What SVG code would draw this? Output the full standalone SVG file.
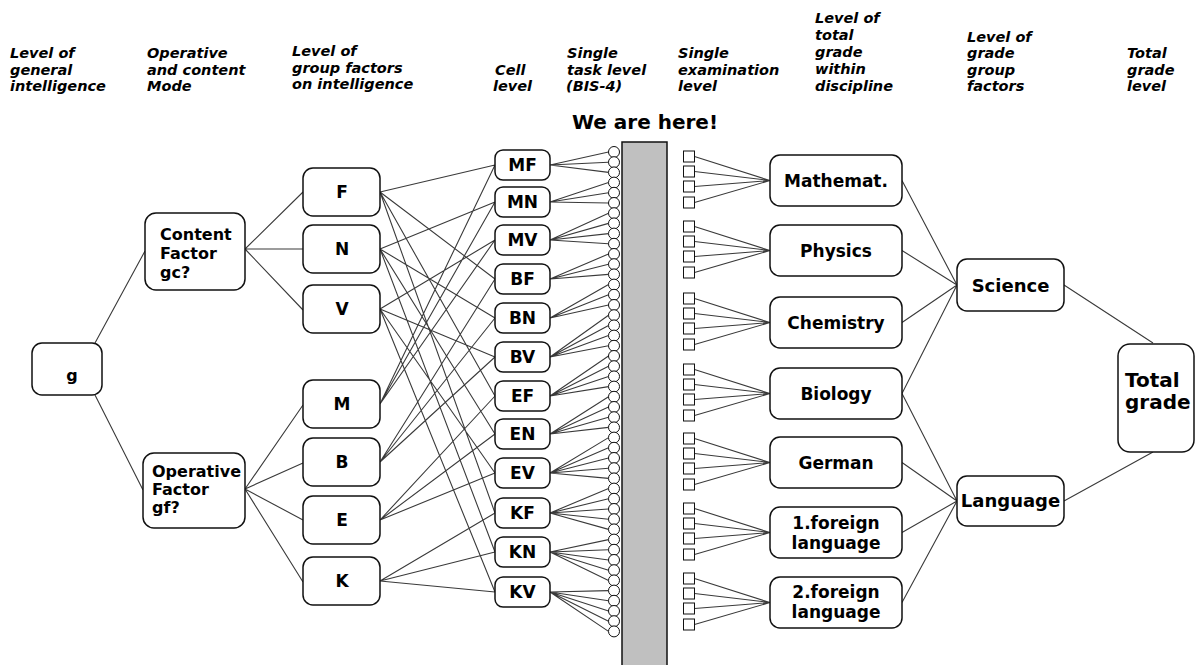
<svg xmlns="http://www.w3.org/2000/svg" width="1195" height="665" viewBox="0 0 1195 665">
<style>
.hdr{font-family:"DejaVu Sans",sans-serif;font-weight:bold;font-style:italic;font-size:14.5px;fill:#000}
.lbl{font-family:"DejaVu Sans",sans-serif;font-weight:bold;fill:#000}
.box{fill:#fff;stroke:#111;stroke-width:1.5}
.ln{stroke:#3a3a3a;stroke-width:1.1;fill:none}
.cir{fill:#fff;stroke:#111;stroke-width:1}
.sq{fill:#fff;stroke:#111;stroke-width:1}
</style>
<rect width="1195" height="665" fill="#fff"/>
<g id="headers">
<text class="hdr" x="10" y="58">Level of</text><text class="hdr" x="10" y="74.5">general</text><text class="hdr" x="10" y="91">intelligence</text>
<text class="hdr" x="147" y="58">Operative</text><text class="hdr" x="147" y="74.5">and content</text><text class="hdr" x="147" y="91">Mode</text>
<text class="hdr" x="292" y="56">Level of</text><text class="hdr" x="292" y="72.5">group factors</text><text class="hdr" x="292" y="89">on intelligence</text>
<text class="hdr" x="495" y="74.5">Cell</text><text class="hdr" x="493" y="91">level</text>
<text class="hdr" x="567" y="58">Single</text><text class="hdr" x="567" y="74.5">task level</text><text class="hdr" x="566" y="91">(BIS-4)</text>
<text class="hdr" x="678" y="58">Single</text><text class="hdr" x="678" y="74.5">examination</text><text class="hdr" x="678" y="91">level</text>
<text class="hdr" x="815" y="23">Level of</text><text class="hdr" x="815" y="40">total</text><text class="hdr" x="815" y="57">grade</text><text class="hdr" x="815" y="74">within</text><text class="hdr" x="815" y="91">discipline</text>
<text class="hdr" x="967" y="41.5">Level of</text><text class="hdr" x="967" y="58">grade</text><text class="hdr" x="967" y="74.5">group</text><text class="hdr" x="967" y="91">factors</text>
<text class="hdr" x="1127" y="58">Total</text><text class="hdr" x="1127" y="74.5">grade</text><text class="hdr" x="1127" y="91">level</text>
<text class="lbl" x="645" y="129" font-size="20" text-anchor="middle">We are here!</text>
</g>
<g id="bar"><rect x="622" y="142" width="45" height="530" fill="#c0c0c0" stroke="#111" stroke-width="1.5"/></g>
<g id="connectors">
<path class="ln" d="M95,343L145,251M95,395L143,490"/>
<path class="ln" d="M245,249L303,192M245,249L303,249M245,249L303,310"/>
<path class="ln" d="M245,489L303,405M245,489L303,463M245,489L303,520M245,489L303,582"/>
<path class="ln" d="M380,404L495,165M380,192L495,165M380,404L495,202M380,249L495,202M380,404L495,240M380,309L495,240M380,462L495,279M380,192L495,279M380,462L495,318M380,249L495,318M380,462L495,357M380,309L495,357M380,520L495,396M380,192L495,396M380,520L495,434M380,249L495,434M380,520L495,473M380,309L495,473M380,581L495,513M380,192L495,513M380,581L495,552M380,249L495,552M380,581L495,592M380,309L495,592"/>
<path class="ln" d="M550,165L608.5,152M550,165L608.5,162.2M550,165L608.5,172.4
M550,202L608.5,182.6M550,202L608.5,192.8M550,202L608.5,203
M550,240L608.5,213.2M550,240L608.5,223.4M550,240L608.5,233.6M550,240L608.5,243.8
M550,279L608.5,254M550,279L608.5,264.2M550,279L608.5,274.4
M550,318L608.5,284.6M550,318L608.5,294.8M550,318L608.5,305
M550,357L608.5,315.2M550,357L608.5,325.4M550,357L608.5,335.6M550,357L608.5,345.8
M550,396L608.5,356M550,396L608.5,366.2M550,396L608.5,376.4M550,396L608.5,386.6
M550,434L608.5,396.8M550,434L608.5,407M550,434L608.5,417.2M550,434L608.5,427.4
M550,473L608.5,437.6M550,473L608.5,447.8M550,473L608.5,458M550,473L608.5,468.2M550,473L608.5,478.4
M550,513L608.5,488.6M550,513L608.5,498.8M550,513L608.5,509M550,513L608.5,519.2M550,513L608.5,529.4
M550,552L608.5,539.6M550,552L608.5,549.8M550,552L608.5,560M550,552L608.5,570.2M550,552L608.5,580.4
M550,592L608.5,590.6M550,592L608.5,600.8M550,592L608.5,611M550,592L608.5,621.2M550,592L608.5,631.4"/>
<path class="ln" d="M694.5,156.5L770,180.5M694.5,171.5L770,180.5M694.5,186.5L770,180.5M694.5,202.5L770,180.5
M694.5,226.5L770,250.5M694.5,241.5L770,250.5M694.5,256.5L770,250.5M694.5,272.5L770,250.5
M694.5,298.5L770,322.5M694.5,313.5L770,322.5M694.5,328.5L770,322.5M694.5,344.5L770,322.5
M694.5,369.5L770,393.5M694.5,384.5L770,393.5M694.5,399.5L770,393.5M694.5,415.5L770,393.5
M694.5,438.5L770,462.5M694.5,453.5L770,462.5M694.5,468.5L770,462.5M694.5,484.5L770,462.5
M694.5,508.5L770,532.5M694.5,523.5L770,532.5M694.5,538.5L770,532.5M694.5,554.5L770,532.5
M694.5,578.5L770,602.5M694.5,593.5L770,602.5M694.5,608.5L770,602.5M694.5,624.5L770,602.5"/>
<path class="ln" d="M902,180.5L957,285M902,250.5L957,285M902,322.5L957,285M902,393.5L957,285M902,393.5L957,501M902,462.5L957,501M902,532.5L957,501M902,602.5L957,501"/>
<path class="ln" d="M1064,285L1153,343M1064,501L1153,452"/>
</g>
<g id="tasks">
<circle class="cir" cx="614" cy="152" r="5.5"/><circle class="cir" cx="614" cy="162.2" r="5.5"/><circle class="cir" cx="614" cy="172.4" r="5.5"/><circle class="cir" cx="614" cy="182.6" r="5.5"/><circle class="cir" cx="614" cy="192.8" r="5.5"/><circle class="cir" cx="614" cy="203" r="5.5"/><circle class="cir" cx="614" cy="213.2" r="5.5"/><circle class="cir" cx="614" cy="223.4" r="5.5"/><circle class="cir" cx="614" cy="233.6" r="5.5"/><circle class="cir" cx="614" cy="243.8" r="5.5"/><circle class="cir" cx="614" cy="254" r="5.5"/><circle class="cir" cx="614" cy="264.2" r="5.5"/><circle class="cir" cx="614" cy="274.4" r="5.5"/><circle class="cir" cx="614" cy="284.6" r="5.5"/><circle class="cir" cx="614" cy="294.8" r="5.5"/><circle class="cir" cx="614" cy="305" r="5.5"/><circle class="cir" cx="614" cy="315.2" r="5.5"/><circle class="cir" cx="614" cy="325.4" r="5.5"/><circle class="cir" cx="614" cy="335.6" r="5.5"/><circle class="cir" cx="614" cy="345.8" r="5.5"/><circle class="cir" cx="614" cy="356" r="5.5"/><circle class="cir" cx="614" cy="366.2" r="5.5"/><circle class="cir" cx="614" cy="376.4" r="5.5"/><circle class="cir" cx="614" cy="386.6" r="5.5"/><circle class="cir" cx="614" cy="396.8" r="5.5"/><circle class="cir" cx="614" cy="407" r="5.5"/><circle class="cir" cx="614" cy="417.2" r="5.5"/><circle class="cir" cx="614" cy="427.4" r="5.5"/><circle class="cir" cx="614" cy="437.6" r="5.5"/><circle class="cir" cx="614" cy="447.8" r="5.5"/><circle class="cir" cx="614" cy="458" r="5.5"/><circle class="cir" cx="614" cy="468.2" r="5.5"/><circle class="cir" cx="614" cy="478.4" r="5.5"/><circle class="cir" cx="614" cy="488.6" r="5.5"/><circle class="cir" cx="614" cy="498.8" r="5.5"/><circle class="cir" cx="614" cy="509" r="5.5"/><circle class="cir" cx="614" cy="519.2" r="5.5"/><circle class="cir" cx="614" cy="529.4" r="5.5"/><circle class="cir" cx="614" cy="539.6" r="5.5"/><circle class="cir" cx="614" cy="549.8" r="5.5"/><circle class="cir" cx="614" cy="560" r="5.5"/><circle class="cir" cx="614" cy="570.2" r="5.5"/><circle class="cir" cx="614" cy="580.4" r="5.5"/><circle class="cir" cx="614" cy="590.6" r="5.5"/><circle class="cir" cx="614" cy="600.8" r="5.5"/><circle class="cir" cx="614" cy="611" r="5.5"/><circle class="cir" cx="614" cy="621.2" r="5.5"/><circle class="cir" cx="614" cy="631.4" r="5.5"/>
</g>
<g id="exams">
<rect class="sq" x="683.5" y="151" width="11" height="11"/><rect class="sq" x="683.5" y="166" width="11" height="11"/><rect class="sq" x="683.5" y="181" width="11" height="11"/><rect class="sq" x="683.5" y="197" width="11" height="11"/>
<rect class="sq" x="683.5" y="221" width="11" height="11"/><rect class="sq" x="683.5" y="236" width="11" height="11"/><rect class="sq" x="683.5" y="251" width="11" height="11"/><rect class="sq" x="683.5" y="267" width="11" height="11"/>
<rect class="sq" x="683.5" y="293" width="11" height="11"/><rect class="sq" x="683.5" y="308" width="11" height="11"/><rect class="sq" x="683.5" y="323" width="11" height="11"/><rect class="sq" x="683.5" y="339" width="11" height="11"/>
<rect class="sq" x="683.5" y="364" width="11" height="11"/><rect class="sq" x="683.5" y="379" width="11" height="11"/><rect class="sq" x="683.5" y="394" width="11" height="11"/><rect class="sq" x="683.5" y="410" width="11" height="11"/>
<rect class="sq" x="683.5" y="433" width="11" height="11"/><rect class="sq" x="683.5" y="448" width="11" height="11"/><rect class="sq" x="683.5" y="463" width="11" height="11"/><rect class="sq" x="683.5" y="479" width="11" height="11"/>
<rect class="sq" x="683.5" y="503" width="11" height="11"/><rect class="sq" x="683.5" y="518" width="11" height="11"/><rect class="sq" x="683.5" y="533" width="11" height="11"/><rect class="sq" x="683.5" y="549" width="11" height="11"/>
<rect class="sq" x="683.5" y="573" width="11" height="11"/><rect class="sq" x="683.5" y="588" width="11" height="11"/><rect class="sq" x="683.5" y="603" width="11" height="11"/><rect class="sq" x="683.5" y="619" width="11" height="11"/>
</g>
<g id="g"><rect class="box" x="32" y="343" width="70" height="52" rx="10"/><text class="lbl" x="72" y="381" font-size="16" text-anchor="middle">g</text></g>
<g id="content-factor"><rect class="box" x="145" y="213" width="100" height="77" rx="11"/><text class="lbl" font-size="16" x="160" y="240">Content</text><text class="lbl" font-size="16" x="160" y="259">Factor</text><text class="lbl" font-size="16" x="160" y="278">gc?</text></g>
<g id="operative-factor"><rect class="box" x="143" y="453" width="102" height="75" rx="11"/><text class="lbl" font-size="16" x="152" y="477">Operative</text><text class="lbl" font-size="16" x="152" y="495">Factor</text><text class="lbl" font-size="16" x="152" y="513">gf?</text></g>
<g id="F"><rect class="box" x="303" y="168" width="77" height="48" rx="10"/><text class="lbl" font-size="17" x="342" y="198" text-anchor="middle">F</text></g>
<g id="N"><rect class="box" x="303" y="225" width="77" height="48" rx="10"/><text class="lbl" font-size="17" x="342" y="255" text-anchor="middle">N</text></g>
<g id="V"><rect class="box" x="303" y="285" width="77" height="48" rx="10"/><text class="lbl" font-size="17" x="342" y="315" text-anchor="middle">V</text></g>
<g id="M"><rect class="box" x="303" y="380" width="77" height="48" rx="10"/><text class="lbl" font-size="17" x="342" y="410" text-anchor="middle">M</text></g>
<g id="B"><rect class="box" x="303" y="438" width="77" height="48" rx="10"/><text class="lbl" font-size="17" x="342" y="468" text-anchor="middle">B</text></g>
<g id="E"><rect class="box" x="303" y="496" width="77" height="48" rx="10"/><text class="lbl" font-size="17" x="342" y="526" text-anchor="middle">E</text></g>
<g id="K"><rect class="box" x="303" y="557" width="77" height="48" rx="10"/><text class="lbl" font-size="17" x="342" y="587" text-anchor="middle">K</text></g>
<g id="MF"><rect class="box" x="495" y="150" width="55" height="30" rx="8"/><text class="lbl" font-size="17" x="522.5" y="171" text-anchor="middle">MF</text></g>
<g id="MN"><rect class="box" x="495" y="187" width="55" height="30" rx="8"/><text class="lbl" font-size="17" x="522.5" y="208" text-anchor="middle">MN</text></g>
<g id="MV"><rect class="box" x="495" y="225" width="55" height="30" rx="8"/><text class="lbl" font-size="17" x="522.5" y="246" text-anchor="middle">MV</text></g>
<g id="BF"><rect class="box" x="495" y="264" width="55" height="30" rx="8"/><text class="lbl" font-size="17" x="522.5" y="285" text-anchor="middle">BF</text></g>
<g id="BN"><rect class="box" x="495" y="303" width="55" height="30" rx="8"/><text class="lbl" font-size="17" x="522.5" y="324" text-anchor="middle">BN</text></g>
<g id="BV"><rect class="box" x="495" y="342" width="55" height="30" rx="8"/><text class="lbl" font-size="17" x="522.5" y="363" text-anchor="middle">BV</text></g>
<g id="EF"><rect class="box" x="495" y="381" width="55" height="30" rx="8"/><text class="lbl" font-size="17" x="522.5" y="402" text-anchor="middle">EF</text></g>
<g id="EN"><rect class="box" x="495" y="419" width="55" height="30" rx="8"/><text class="lbl" font-size="17" x="522.5" y="440" text-anchor="middle">EN</text></g>
<g id="EV"><rect class="box" x="495" y="458" width="55" height="30" rx="8"/><text class="lbl" font-size="17" x="522.5" y="479" text-anchor="middle">EV</text></g>
<g id="KF"><rect class="box" x="495" y="498" width="55" height="30" rx="8"/><text class="lbl" font-size="17" x="522.5" y="519" text-anchor="middle">KF</text></g>
<g id="KN"><rect class="box" x="495" y="537" width="55" height="30" rx="8"/><text class="lbl" font-size="17" x="522.5" y="558" text-anchor="middle">KN</text></g>
<g id="KV"><rect class="box" x="495" y="577" width="55" height="30" rx="8"/><text class="lbl" font-size="17" x="522.5" y="598" text-anchor="middle">KV</text></g>
<g id="mathemat"><rect class="box" x="770" y="155" width="132" height="51" rx="10"/><text class="lbl" font-size="17" x="836" y="186.5" text-anchor="middle">Mathemat.</text></g>
<g id="physics"><rect class="box" x="770" y="225" width="132" height="51" rx="10"/><text class="lbl" font-size="17" x="836" y="256.5" text-anchor="middle">Physics</text></g>
<g id="chemistry"><rect class="box" x="770" y="297" width="132" height="51" rx="10"/><text class="lbl" font-size="17" x="836" y="328.5" text-anchor="middle">Chemistry</text></g>
<g id="biology"><rect class="box" x="770" y="368" width="132" height="51" rx="10"/><text class="lbl" font-size="17" x="836" y="399.5" text-anchor="middle">Biology</text></g>
<g id="german"><rect class="box" x="770" y="437" width="132" height="51" rx="10"/><text class="lbl" font-size="17" x="836" y="468.5" text-anchor="middle">German</text></g>
<g id="foreign1"><rect class="box" x="770" y="507" width="132" height="51" rx="10"/><text class="lbl" font-size="17" x="836" y="528.5" text-anchor="middle">1.foreign</text><text class="lbl" font-size="17" x="836" y="548.5" text-anchor="middle">language</text></g>
<g id="foreign2"><rect class="box" x="770" y="577" width="132" height="51" rx="10"/><text class="lbl" font-size="17" x="836" y="597.5" text-anchor="middle">2.foreign</text><text class="lbl" font-size="17" x="836" y="617.5" text-anchor="middle">language</text></g>
<g id="science"><rect class="box" x="957" y="259" width="107" height="52" rx="10"/><text class="lbl" font-size="18" x="1010.5" y="291.5" text-anchor="middle">Science</text></g>
<g id="language"><rect class="box" x="957" y="476" width="107" height="50" rx="10"/><text class="lbl" font-size="18" x="1010.5" y="507" text-anchor="middle">Language</text></g>
<g id="total-grade"><rect class="box" x="1118" y="344" width="76" height="108" rx="12"/><text class="lbl" font-size="20" x="1125" y="387">Total</text><text class="lbl" font-size="20" x="1125" y="409">grade</text></g>
</svg>
